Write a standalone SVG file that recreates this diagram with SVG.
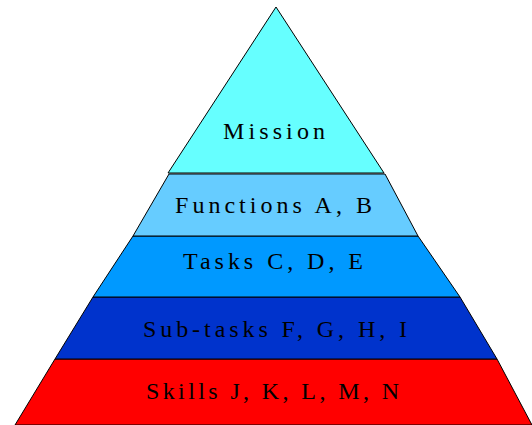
<svg xmlns="http://www.w3.org/2000/svg" width="532" height="425" viewBox="0 0 532 425">
<style>
.layer{stroke:#000;stroke-width:1;stroke-linejoin:round}
.lbl{font-family:"Liberation Serif","Times New Roman",serif;font-size:24px;fill:#000}
</style>
<rect width="532" height="425" fill="#fff"/>
<g id="skills"><polygon class="layer" points="55,359 497,359 532,425 15,425" fill="#ff0000"/><text class="lbl" x="146" y="399" textLength="253" lengthAdjust="spacing">Skills J, K, L, M, N</text></g>
<g id="subtasks"><polygon class="layer" points="93,297 460,297 497,359 55,359" fill="#0033cc"/><text class="lbl" x="143" y="337" textLength="264" lengthAdjust="spacing">Sub-tasks F, G, H, I</text></g>
<g id="tasks"><polygon class="layer" points="133,236 418,236 460,297 93,297" fill="#0099ff"/><text class="lbl" x="183" y="269" textLength="180" lengthAdjust="spacing">Tasks C, D, E</text></g>
<g id="functions"><polygon class="layer" points="169,174 385,174 418,236 133,236" fill="#66ccff"/><text class="lbl" x="175" y="213" textLength="197" lengthAdjust="spacing">Functions A, B</text></g>
<g id="mission"><polygon class="layer" points="276,7 384,173 168,173" fill="#66ffff"/><text class="lbl" x="223" y="139" textLength="102" lengthAdjust="spacing">Mission</text></g>
</svg>
